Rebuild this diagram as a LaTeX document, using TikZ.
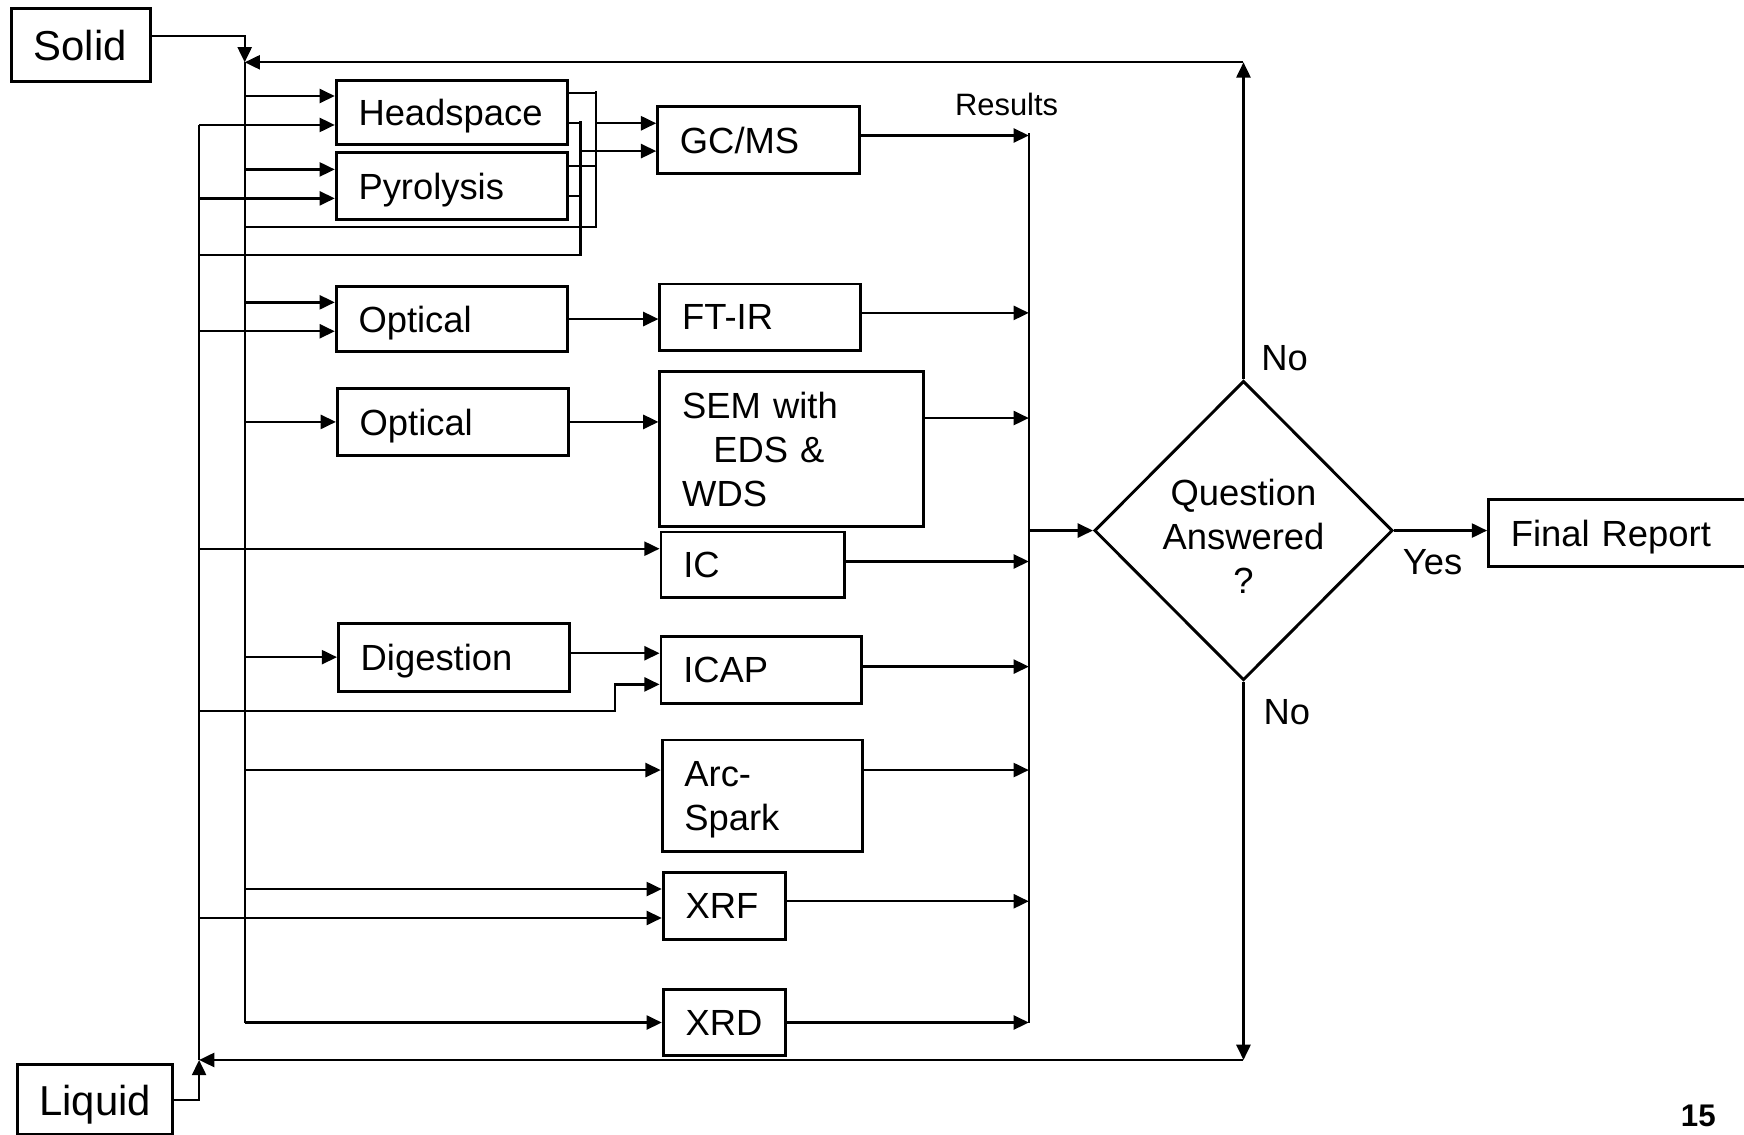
\documentclass[tikz,border=0pt]{standalone}
\usepackage{fontspec}
\setmainfont{Liberation Sans}
\usepackage{tikz}
\usetikzlibrary{arrows.meta,shapes.geometric}

\begin{document}
\begin{tikzpicture}[x=0.01cm,y=-0.01cm,line width=0.6pt,>={Triangle[length=3.9pt,width=3.6pt]},
    box/.style={draw,rectangle,line width=0.75pt,anchor=north west,align=left,inner xsep=0.2cm,inner ysep=0pt,font=\fontsize{9.3}{11.2}\selectfont},
    oneline/.style={box,text depth=0pt},
    lbl/.style={font=\fontsize{9.3}{11.2}\selectfont}]
    \useasboundingbox (0,0) rectangle (1568,1020);
    % Samples
    \node[oneline,text width=0.85cm,minimum height=0.66cm,font=\fontsize{10.7}{12.8}\selectfont] (Solid) at (9,6) {Solid};
    \node[oneline,text width=1.0cm,minimum height=0.63cm,font=\fontsize{10.7}{12.8}\selectfont] (Liquid) at (14,956) {Liquid};
    % Preparation
    \foreach \name/\txt/\x/\y/\h in {Prep-1/Headspace/301/71/58,Prep-2/Pyrolysis/301/136/60,Prep-3/Optical/301/256/59,Prep-4/Optical/302/348/60,Prep-5/Digestion/303/559/61} {
        \node[oneline,text width=1.68cm,minimum height=\h*0.01cm] (\name) at (\x,\y) {\txt};
    }
    % Instruments
    \foreach \name/\txt/\x/\y/\w/\h in {Instr-1/{GC/MS}/590/94/181/61,Instr-2/FT-IR/592/254/180/60,Instr-4/IC/593/477/165/59,Instr-5/ICAP/593/571/180/60,Instr-7/XRF/595/783/110/60,Instr-8/XRD/595/888/110/60} {
        \pgfmathsetmacro\tw{(\w-40)/100}
        \node[oneline,text width=\tw cm,minimum height=\h*0.01cm] (\name) at (\x,\y) {\txt};
    }
    \node[box,text width=1.97cm,minimum height=1.39cm] (Instr-3) at (592,333) {SEM with\\\hspace*{0.28cm}EDS \&\\WDS};
    \node[box,text width=1.4cm,minimum height=1.0cm] (Instr-6) at (594,664) {\rule{0pt}{8.5pt}Arc-\\Spark};
    % Decision
    \node[draw,diamond,aspect=1,line width=0.75pt,inner sep=0pt,minimum width=2.68cm,minimum height=2.69cm,align=center,lbl] (Dec) at (1118,477) {\rule{0pt}{9.6pt}Question\\Answered\\?};
    \node[oneline,text width=2.05cm,minimum height=0.6cm] (Report) at (1337,448) {Final Report};
    % Labels
    \node[font=\fontsize{7.9}{9}\selectfont] (Results) at (905,94) {Results};
    \node[lbl] (No-1) at (1155,322) {No};
    \node[lbl] (No-2) at (1157,640) {No};
    \node[lbl] (Yes) at (1288,505) {Yes};
    \node[font=\fontsize{8}{9}\selectfont\bfseries] (Page) at (1527,1003) {15};
    % Solid line
    \coordinate (S-top) at (220,56);
    \draw[->] ([yshift=0.08cm]Solid.east) -| (S-top);
    \draw (S-top) -- (S-top |- Instr-8.west);
    \foreach \to/\s in {Prep-1/0.15,Prep-2/0.15,Prep-3/0.15,Prep-4/0,Prep-5/0,Instr-6/0.23,Instr-7/0.15,Instr-8/0} {
        \draw[->] ([yshift=\s cm]\to.west -| S-top) -- ([yshift=\s cm]\to.west);
    }
    % Liquid line
    \coordinate (L-bot) at (179,953);
    \draw[->] (Liquid.east) -| (L-bot);
    \draw (L-bot) -- ([yshift=-0.11cm]Prep-1.west -| L-bot);
    \foreach \to/\s in {Prep-1/-0.11,Prep-2/-0.11,Prep-3/-0.11,Instr-4/0.145,Instr-7/-0.11} {
        \draw[->] ([yshift=\s cm]\to.west -| L-bot) -- ([yshift=\s cm]\to.west);
    }
    \coordinate (Jog) at (553,639);
    \draw[->] (L-bot |- Jog) -- (Jog) |- ([yshift=-0.13cm]Instr-5.west);
    % Bypass to GC/MS
    \coordinate (By-1) at (536,204);
    \coordinate (By-2) at (522,229);
    \draw (S-top |- By-1) -- (By-1) -- ++(0,-122);
    \draw (L-bot |- By-2) -- (By-2) -- ++(0,-120);
    \foreach \i in {1,2} {
        \draw ([yshift=0.18cm]Prep-\i.east) -- ([yshift=0.18cm]Prep-\i.east -| By-1);
        \draw ([yshift=-0.09cm]Prep-\i.east) -- ([yshift=-0.09cm]Prep-\i.east -| By-2);
    }
    \draw[->] ([yshift=0.15cm]Instr-1.west -| By-1) -- ([yshift=0.15cm]Instr-1.west);
    \draw[->] ([yshift=-0.10cm]Instr-1.west -| By-2) -- ([yshift=-0.10cm]Instr-1.west);
    % Preparation to instruments
    \draw[->] (Prep-3.east) -- (Prep-3.east -| Instr-2.west);
    \draw[->] (Prep-4.east) -- (Prep-4.east -| Instr-3.west);
    \draw[->] ([yshift=0.15cm]Instr-5.west -| Prep-5.east) -- ([yshift=0.15cm]Instr-5.west);
    % Results
    \coordinate (Res-top) at (925,120);
    \draw (Res-top) -- (Res-top |- Instr-8.east);
    \foreach \i/\s in {1/0.04,2/0.04,3/0.28,4/0.03,5/0.03,6/0.23,7/0.04,8/0} {
        \draw[->] ([yshift=\s cm]Instr-\i.east) -- ([yshift=\s cm]Instr-\i.east -| Res-top);
    }
    \draw[->] (Res-top |- Dec.west) -- (Dec.west);
    \draw[->] (Dec.east) -- (Dec.east -| Report.west);
    % Feedback
    \coordinate (Fb-top) at (1118,56);
    \coordinate (Fb-bot) at (1118,953);
    \draw[->] (Dec.north) -- (Fb-top);
    \draw[->] (Fb-top) -- (S-top);
    \draw[->] (Dec.south) -- (Fb-bot);
    \draw[->] (Fb-bot) -- (L-bot);
\end{tikzpicture}
\end{document}
